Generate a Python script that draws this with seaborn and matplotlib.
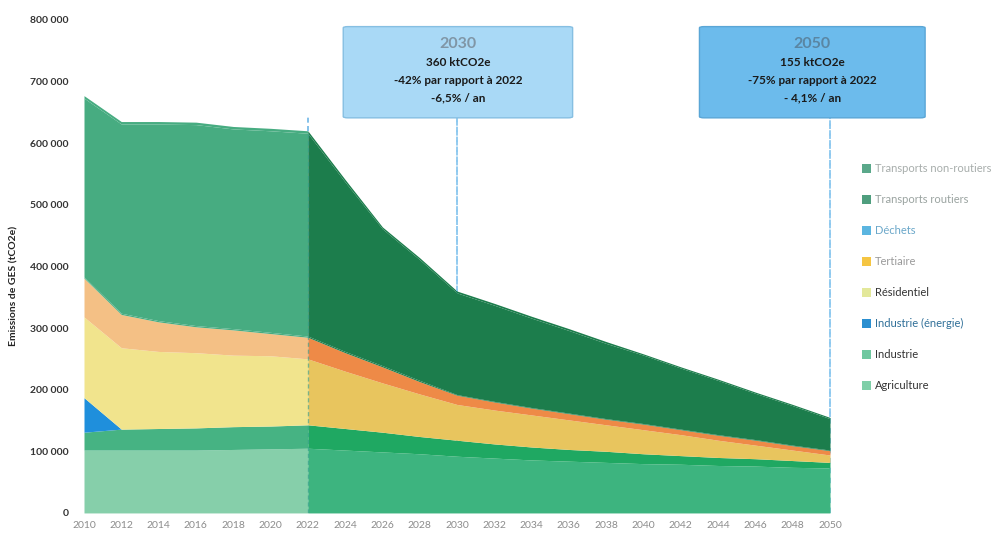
import numpy as np
import matplotlib
matplotlib.use("Agg")
import matplotlib.pyplot as plt
from matplotlib.patches import FancyBboxPatch, Patch
from matplotlib.ticker import FuncFormatter
import seaborn as sns

# Years (every two years) and emissions per sector, in ktCO2e
years = list(range(2010, 2051, 2))
agriculture = [102, 102, 102, 102, 103, 104, 105, 102, 99, 96, 92, 89, 86, 84, 82, 80, 79, 77, 76, 74, 73]
industrie = [29, 34, 35, 36, 37, 37, 38, 35, 32, 28, 26, 23, 21, 19, 18, 16, 14, 13, 12, 11, 9]
industrie_energie = [56, 0, 0, 0, 0, 0, 0, 0, 0, 0, 0, 0, 0, 0, 0, 0, 0, 0, 0, 0, 0]
residentiel = [131, 132, 125, 122, 116, 114, 107, 93, 80, 69, 58, 55, 52, 48, 43, 39, 34, 28, 22, 17, 12]
tertiaire = [63, 54, 48, 42, 41, 36, 35, 30, 26, 20, 15, 13, 11, 10, 9, 9, 8, 8, 8, 7, 7]
dechets = [2, 2, 2, 2, 2, 2, 2, 2, 2, 2, 1, 1, 1, 1, 1, 1, 1, 1, 1, 1, 1]
transports_routiers = [290, 307, 319, 326, 324, 327, 329, 275, 222, 196, 165, 156, 145, 134, 122, 111, 99, 88, 75, 64, 51]
transports_non_routiers = [4, 4, 4, 4, 4, 4, 4, 4, 3, 3, 3, 3, 3, 3, 3, 2, 2, 2, 2, 2, 2]

sector_names = ["Agriculture", "Industrie", "Industrie (énergie)", "Résidentiel",
                "Tertiaire", "Déchets", "Transports routiers", "Transports non-routiers"]
sector_values = [agriculture, industrie, industrie_energie, residentiel,
                 tertiaire, dechets, transports_routiers, transports_non_routiers]

split_year = 2022
milestones = [
    (2030, "2030", "360 ktCO2e", "-42% par rapport à 2022", "-6,5% / an"),
    (2050, "2050", "155 ktCO2e", "-75% par rapport à 2022", "- 4,1% / an"),
]

y_ticks = list(range(0, 800001, 100000))
x_ticks = list(range(2010, 2051, 2))

# Colours: observed period (lighter) and scenario period (deeper)
hist_colors = ["#86cfaa", "#46b383", "#1f8fdc", "#f1e48d", "#f4c085", "#47ac81", "#47ac81", "#47ac81"]
proj_colors = ["#3db47f", "#1fa862", "#1f8fdc", "#e8c55e", "#ee8a47", "#1c7d4c", "#1c7d4c", "#1c7d4c"]
legend_colors = ["#7fcfa8", "#6fc8a0", "#2b8fd0", "#e3e89a", "#f5c542", "#5bb5e0", "#4f9e7e", "#5aa88a"]
legend_text_colors = ["#333333", "#333333", "#2f6f98", "#333333", "#9a9a9a", "#6aa7c9", "#9aa3a0", "#a7adab"]

sns.set_theme(style="white")
plt.rcParams["font.family"] = ["Lato", "DejaVu Sans"]

fig = plt.figure(figsize=(10, 5.36), dpi=100)
ax = fig.add_axes([0.084, 0.043, 0.746, 0.92])

x = np.array(years, dtype=float)
vals = np.array(sector_values, dtype=float) * 1000.0
hist = x <= split_year
proj = x >= split_year

ax.stackplot(x[hist], vals[:, hist], colors=hist_colors, linewidth=0, zorder=2)
ax.stackplot(x[proj], vals[:, proj], colors=proj_colors, linewidth=0, zorder=2)

totals = vals.sum(axis=0)
t_split = totals[years.index(split_year)]

# Separation between observed and scenario periods
ax.plot([split_year, split_year], [0, t_split], color="#2f9c8a", lw=1.0,
        ls=(0, (3, 2)), alpha=0.6, zorder=3)
ax.plot([split_year, split_year], [t_split, t_split + 25000], color="#6fb6e6",
        lw=1.2, ls=(0, (3, 2)), zorder=3)

# Milestone boxes with dashed leaders
box_fill = {2030: "#a9d9f6", 2050: "#6cbbec"}
box_edge = {2030: "#86bfe2", 2050: "#5aa6d6"}
title_col = {2030: "#8096a6", 2050: "#5a86a3"}
box_span = {2030: (2023.9, 2036.2), 2050: (2043.0, 2055.1)}
for yr, title, l1, l2, l3 in milestones:
    x0, x1 = box_span[yr]
    ax.plot([yr, yr], [0, 641000], color="#8cc8ef", lw=1.3, ls=(0, (3, 2.5)),
            zorder=1.5, clip_on=False)
    ax.plot([yr, yr], [totals[years.index(yr)], 641000], color="#8cc8ef", lw=1.3,
            ls=(0, (3, 2.5)), zorder=3, clip_on=False)
    box = FancyBboxPatch((x0, 641000), x1 - x0, 148000,
                         boxstyle="round,pad=0,rounding_size=0.25",
                         mutation_aspect=8000,
                         facecolor=box_fill[yr], edgecolor=box_edge[yr], lw=1.0,
                         clip_on=False, zorder=4)
    ax.add_patch(box)
    cx = (x0 + x1) / 2
    ax.text(cx, 760000, title, ha="center", va="center", fontsize=11.5,
            fontweight="bold", color=title_col[yr], zorder=5, clip_on=False)
    for yy, txt in zip([730000, 701000, 674000], [l1, l2, l3]):
        ax.text(cx, yy, txt, ha="center", va="center", fontsize=8.5,
                fontweight="bold", color="#1a1a1a", zorder=5, clip_on=False)

ax.set_xlim(2010, 2050)
ax.set_ylim(0, 800000)
ax.set_xticks(x_ticks)
ax.set_yticks(y_ticks)
ax.yaxis.set_major_formatter(FuncFormatter(lambda v, p: f"{int(v):,}".replace(",", " ")))
ax.tick_params(axis="x", labelsize=7.5, labelcolor="#8c8c8c", length=0, pad=6)
ax.tick_params(axis="y", labelsize=7.5, labelcolor="#333333", length=0, pad=11)
for lab in ax.get_yticklabels():
    lab.set_fontweight("bold")
for s in ax.spines.values():
    s.set_visible(False)
ax.grid(False)

ax.set_ylabel("Emissions de GES (tCO2e)", fontsize=7.5, fontweight="bold", color="#222222")
ax.yaxis.set_label_coords(-0.088, 0.46)

# Legend, top layer first
handles = [Patch(facecolor=c, edgecolor="none") for c in legend_colors][::-1]
labels = sector_names[::-1]
fig.legend(handles, labels, loc="upper left", bbox_to_anchor=(0.852, 0.714),
           frameon=False, fontsize=8, handlelength=0.8, handleheight=0.8,
           handletextpad=0.4, labelspacing=1.8,
           labelcolor=legend_text_colors[::-1])

fig.savefig("out.png", dpi=100)
